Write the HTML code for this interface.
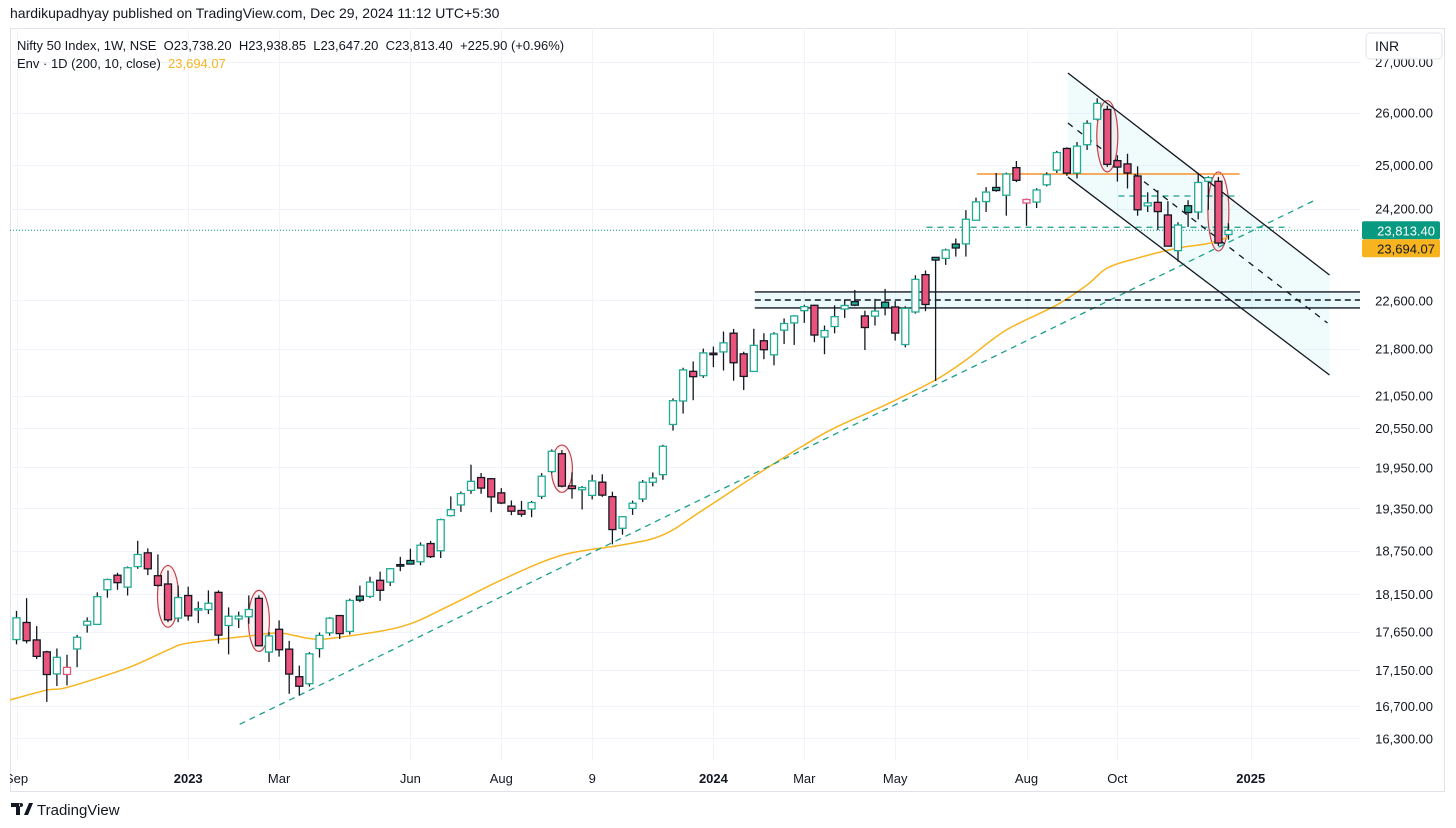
<!DOCTYPE html>
<html><head><meta charset="utf-8">
<style>
html,body{margin:0;padding:0;background:#fff;width:1456px;height:828px;overflow:hidden;font-family:"Liberation Sans",Arial,sans-serif;}
#root{position:relative;width:1456px;height:828px;}
.pub{position:absolute;left:10px;top:5px;font-size:14px;color:#131722;}
svg{position:absolute;left:0;top:0;}
</style></head>
<body>
<div id="root">
<div class="pub">hardikupadhyay published on TradingView.com, Dec 29, 2024 11:12 UTC+5:30</div>
<svg id="chart" width="1456" height="828" xmlns="http://www.w3.org/2000/svg"></svg>
</div>
<script>
// ---- data ----
const opens=[17546,17771,17541,17386,17102,17095,17423,17736,17746,18211,18409,18246,18528,18719,18402,18289,17830,
18132,17953,17943,18175,17731,17818,17847,18094,17383,17681,17421,17066,16977,17428,17634,17863,17653,18124,18120,18339,18315,18555,18612,18595,18849,18748,19246,19400,19612,19801,19784,19576,19383,19320,19342,19525,19890,20156,19678,19622,19539,19733,19521,19065,19350,19487,19731,19844,20601,20965,21434,21365,
21727,21747,22053,21716,21433,21929,21700,22103,22223,22427,22517,21990,22163,22455,22579,22339,22336,22569,22489,21867,22405,23038,23337,23319,23570,23573,23992,24329,24587,24445,24953,24303,24320,24636,24906,25313,24852,25384,25872,26061,25084,25023,24798,24251,24315,24087,23455,24254,24140,24700,24700,23738];
const highs=[17925,18096,17723,17400,17429,17348,17607,17838,18176,18362,18442,18529,18888,18782,18697,18473,18266,
18252,18050,18202,18201,17972,17917,18134,18134,17644,17799,17529,17208,17381,17638,17842,17863,18089,18267,18389,18459,18508,18663,18777,18865,18887,19202,19524,19595,19992,19868,19795,19645,19465,19458,19458,19867,20222,20211,19878,19675,19843,19849,19593,19233,19463,19764,19876,20291,21006,21492,21593,21801,
21834,22081,22124,21750,22126,22053,22069,22298,22353,22526,22526,22180,22516,22619,22776,22427,22626,22794,22588,22502,23027,23110,23338,23490,23667,24174,24401,24592,24854,24862,25078,24382,24572,24867,25269,25334,25434,25850,26277,26134,25186,25213,24978,24498,24537,24336,23956,24354,24857,24792,24781,23939];
const lows=[17484,17497,17292,16748,16948,16956,17187,17637,17737,18103,18210,18133,18497,18410,18255,17775,17775,
17795,17762,17883,17493,17353,17698,17754,17456,17255,17324,16850,16828,16941,17313,17597,17553,17612,18042,18100,18060,18262,18465,18555,18546,18647,18646,19234,19300,19562,19563,19296,19412,19253,19229,19223,19488,19866,19657,19492,19334,19480,19518,18838,18974,19257,19443,19671,19768,20507,20769,20977,21330,
21501,21448,21285,21137,21429,21629,21530,21875,21861,22224,21906,21710,22052,22306,22503,21777,22180,22348,21932,21822,22378,22418,21281,23207,23351,23351,23992,24141,24508,24074,24686,23894,24212,24607,24854,24801,24753,25285,25848,24967,24695,24567,24074,24140,23816,23532,23263,23873,24008,24180,23537,23647];
const closes=[17833,17531,17327,17094,17315,17186,17576,17787,18117,18350,18307,18512,18696,18497,18269,17806,18105,
17859,17956,18027,17604,17854,17856,17944,17465,17594,17413,17100,16945,17360,17600,17828,17624,18065,18069,18315,18203,18499,18534,18563,18826,18666,19189,19332,19565,19745,19646,19517,19428,19310,19266,19435,19820,20193,19674,19638,19654,19751,19543,19047,19231,19425,19732,19795,20268,20970,21457,21349,21731,
21711,21895,21572,21353,21854,21783,22041,22213,22339,22494,22023,22097,22327,22514,22519,22147,22420,22476,22055,22466,22957,22531,23290,23466,23501,24011,24324,24502,24531,24835,24718,24367,24541,24823,25236,24852,25357,25791,26179,25015,24964,24854,24181,24305,24148,23533,23907,24131,24678,24768,23588,23813];
// envelope (200D MA) sampled at candle indices
const envIdx=[-1,3,5,11,15,17,23,26,29,31,38,43,48,54,60,64,68,74,78,81,86,91,94,98,103,106,108,111,115,118,120];
const envVal=[16760,16897,16930,17178,17410,17500,17593,17632,17560,17560,17712,18004,18343,18687,18830,18970,19330,19912,20288,20548,20901,21297,21616,22105,22523,22862,23153,23325,23500,23580,23694];
const priceTicks=[27000,26000,25000,24200,22600,21800,21050,20550,19950,19350,18750,18150,17650,17150,16700,16300];
const timeLabels=["Sep","2023","Mar","Jun","Aug","9","2024","Mar","May","Aug","Oct","2025"];
const timeIdx=[0,17,26,39,48,57,69,78,87,100,109,122.2];
const timeBold=[0,1,0,0,0,0,1,0,0,0,0,1];
const circledIdx=[15,24,54,108,119];
// drawings (index, price)
const trendA=[22.1,16471], trendB=[128.6,24358];
const chanUpper=[[104.1,26779],[130,23032]];
const chanMid=[[104.1,25798],[129.8,22222]];
const chanLower=[[104.1,24778],[130,21376]];
const zoneTop=22743, zoneMid=22607, zoneBot=22473, zoneStart=73.1;
const orangeLevel=24835, orangeFrom=95.1, orangeTo=121.1;
const tealLevel1=24430, teal1From=109.1, teal1To=121.1;
const tealLevel2=23868, teal2From=90.1, teal2To=126.1;
const lastClose=23813.40, envLast=23694.07;

// ---- scales ----
const PL=10,PR=1360,PT=28,PB=760;
const X=i=>16.5+i*10.1;
const Y=p=>62+1340*Math.log(27000/p);
const NS="http://www.w3.org/2000/svg";
const svg=document.getElementById('chart');
function mk(tag,attrs,parent){const e=document.createElementNS(NS,tag);for(const k in attrs)e.setAttribute(k,attrs[k]);(parent||svg).appendChild(e);return e;}

const frame=mk('rect',{x:10.5,y:28.5,width:1434,height:763,fill:'none',stroke:'#e0e3eb'});


const defs=mk('defs',{});
const cp=mk('clipPath',{id:'plot'},defs);mk('rect',{x:PL,y:PT,width:PR-PL,height:PB-PT},cp);

const grid=mk('g',{stroke:'#f0f3fa','stroke-width':1});


priceTicks.forEach(p=>{const y=Math.round(Y(p))+0.5;mk('line',{x1:PL,x2:PR,y1:y,y2:y},grid);});
timeIdx.forEach(i=>{const x=Math.round(X(i))+0.5;mk('line',{x1:x,x2:x,y1:PT,y2:PB},grid);});
mk('line',{x1:PL,x2:1445,y1:791.5,y2:791.5,stroke:'#e0e3eb'});

const plot=mk('g',{'clip-path':'url(#plot)'});



const cf=mk('polygon',{points:[chanUpper[0],chanUpper[1],chanLower[1],chanLower[0]].map(a=>X(a[0])+','+Y(a[1])).join(' '),fill:'rgba(178,235,242,0.2)'},plot);


const zf=mk('rect',{x:X(zoneStart),y:Y(zoneTop),width:PR-X(zoneStart),height:Y(zoneBot)-Y(zoneTop),fill:'rgba(178,235,242,0.25)'},plot);



circledIdx.forEach(i=>{const yt=Y(highs[i]),yb=Y(lows[i]);
const e=mk('ellipse',{cx:X(i),cy:(yt+yb)/2,rx:10.5,ry:(yb-yt)/2+5,fill:'rgba(242,54,69,0.07)',stroke:'#c2414b','stroke-width':1.2},plot);

});

// envelope (smoothed Catmull-Rom)
const pts=envIdx.map((i,k)=>[X(i),Y(envVal[k])]);
let d='M'+pts[0][0]+','+pts[0][1];
for(let k=0;k<pts.length-1;k++){
  const p0=pts[Math.max(k-1,0)],p1=pts[k],p2=pts[k+1],p3=pts[Math.min(k+2,pts.length-1)];
  const c1=[p1[0]+(p2[0]-p0[0])/6,p1[1]+(p2[1]-p0[1])/6];
  const c2=[p2[0]-(p3[0]-p1[0])/6,p2[1]-(p3[1]-p1[1])/6];
  d+='C'+c1[0]+','+c1[1]+' '+c2[0]+','+c2[1]+' '+p2[0]+','+p2[1];
}
const env=mk('path',{d:d,fill:'none',stroke:'#f7b41f','stroke-width':1.5},plot);



const tl=mk('line',{x1:X(trendA[0]),y1:Y(trendA[1]),x2:X(trendB[0]),y2:Y(trendB[1]),stroke:'#1b9e8c','stroke-width':1.3,'stroke-dasharray':'6,5'},plot);



const lp=mk('line',{x1:PL,x2:PR,y1:Y(lastClose),y2:Y(lastClose),stroke:'#089981','stroke-width':1,'stroke-dasharray':'1,2'},plot);



const zt=mk('line',{x1:X(zoneStart),x2:PR,y1:Y(zoneTop),y2:Y(zoneTop),stroke:'#131722','stroke-width':1.3},plot);


const zm=mk('line',{x1:X(zoneStart),x2:PR,y1:Y(zoneMid),y2:Y(zoneMid),stroke:'#131722','stroke-width':1.5,'stroke-dasharray':'6,4'},plot);


const zb=mk('line',{x1:X(zoneStart),x2:PR,y1:Y(zoneBot),y2:Y(zoneBot),stroke:'#131722','stroke-width':1.3},plot);



const ol=mk('line',{x1:X(orangeFrom),x2:X(orangeTo),y1:Y(orangeLevel),y2:Y(orangeLevel),stroke:'#f57c00','stroke-width':1.3},plot);


const t1=mk('line',{x1:X(teal1From),x2:X(teal1To),y1:Y(tealLevel1),y2:Y(tealLevel1),stroke:'#1b9e8c','stroke-width':1.3,'stroke-dasharray':'6,5'},plot);


const t2=mk('line',{x1:X(teal2From),x2:X(teal2To),y1:Y(tealLevel2),y2:Y(tealLevel2),stroke:'#1b9e8c','stroke-width':1.3,'stroke-dasharray':'6,5'},plot);



function seg(a,name,dash){const l=mk('line',{x1:X(a[0][0]),y1:Y(a[0][1]),x2:X(a[1][0]),y2:Y(a[1][1]),stroke:'#131722','stroke-width':1.3},plot);if(dash)l.setAttribute('stroke-dasharray','6,6');

}
seg(chanUpper,'channel-upper-line');
seg(chanMid,'channel-mid-line',true);
seg(chanLower,'channel-lower-line');

const UP='#22ab94',DN='#e9537c';
for(let i=0;i<closes.length;i++){
  const o=opens[i],c=closes[i],h=highs[i],l=lows[i];
  const prev=i?closes[i-1]:o;
  const rising=c>=prev, hollow=c>o;
  const g=mk('g',{},plot);
  
  
  const x=X(i);
  mk('line',{x1:x,x2:x,y1:Y(h),y2:Y(l),stroke:'#131722','stroke-width':1.3},g);
  const yt=Y(Math.max(o,c)),yb=Y(Math.min(o,c));
  let fill,stroke;
  if(rising){stroke=hollow?UP:'#131722';fill=hollow?'#fff':UP;}
  else{stroke=hollow?DN:'#131722';fill=hollow?'#fff':DN;}
  mk('rect',{x:x-3.5,y:yt,width:7,height:Math.max(yb-yt,1.5),fill:fill,stroke:stroke,'stroke-width':1.3},g);
}

const ax=mk('g',{'font-size':13,fill:'#131722','text-anchor':'end'});


priceTicks.forEach(p=>{const t=mk('text',{x:1433,y:Y(p)+5},ax);t.textContent=p.toLocaleString('en-US',{minimumFractionDigits:2});});
const inr=mk('g',{});


mk('rect',{x:1366,y:33,width:76,height:26,rx:4,fill:'#fff',stroke:'#e0e3eb'},inr);
const it=mk('text',{x:1375,y:51,'font-size':14,fill:'#131722'},inr);it.textContent='INR';
function tag(p,yc,bg,fg,name){const g=mk('g',{});


mk('rect',{x:1362,y:yc-9,width:78,height:18,rx:2,fill:bg},g);
const t=mk('text',{x:1435,y:yc+5,'font-size':13,fill:fg,'text-anchor':'end'},g);t.textContent=p.toLocaleString('en-US',{minimumFractionDigits:2});}
tag(lastClose,Y(lastClose),'#089981','#fff','last-price-label');
tag(envLast,Y(lastClose)+18,'#f7b41f','#131722','envelope-price-label');

const tx=mk('g',{'font-size':13,fill:'#131722','text-anchor':'middle'});


timeLabels.forEach((s,k)=>{const t=mk('text',{x:X(timeIdx[k]),y:783,'font-weight':timeBold[k]?'bold':'normal'},tx);t.textContent=s;});
mk('rect',{x:0,y:760,width:10,height:40,fill:'#fff'});

const lg=mk('g',{'font-size':13,fill:'#131722'});


const l1=mk('text',{x:17,y:50},lg);l1.textContent='Nifty 50 Index, 1W, NSE  O23,738.20  H23,938.85  L23,647.20  C23,813.40  +225.90 (+0.96%)';
l1.style.whiteSpace='pre';
const l2=mk('text',{x:17,y:68},lg);l2.textContent='Env · 1D (200, 10, close)  ';l2.style.whiteSpace='pre';
const l3=mk('tspan',{fill:'#f7b41f'},l2);l3.textContent='23,694.07';

const lo=mk('g',{});


mk('path',{d:'M11 803h9v12h-4v-8h-5z M21 803a2 2 0 1 0 0.1 0 M24 815l5-12h4l-5 12z',fill:'#131722'},lo);
const lt=mk('text',{x:37,y:815,'font-size':15,fill:'#131722'},lo);lt.textContent='TradingView';
</script>
</body></html>
